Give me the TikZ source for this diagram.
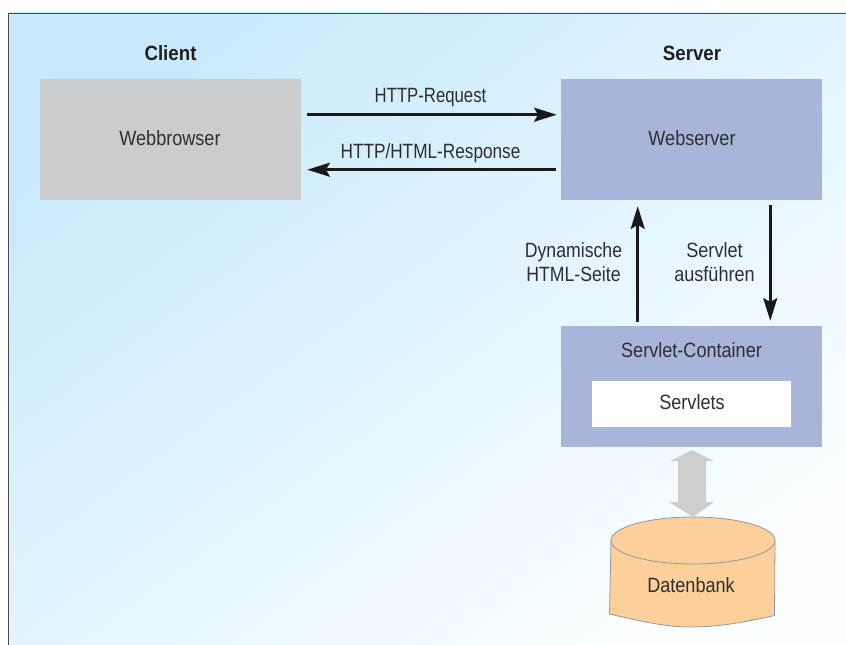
\documentclass[tikz,border=0pt]{standalone}
\usepackage{fontspec}
\setmainfont{Liberation Sans}[FakeStretch=0.81]
\newfontfamily\fR{Liberation Sans}[FakeStretch=0.833]
\newfontfamily\fD{Liberation Sans}[FakeStretch=0.855]
\newfontfamily\fW{Liberation Sans}[FakeStretch=0.875]
\newfontfamily\fB{Liberation Sans}[FakeStretch=0.905]
\usetikzlibrary{calc,arrows.meta}
\definecolor{bgA}{HTML}{C8EAFC}
\definecolor{bgM}{HTML}{E6F6FE}
\definecolor{bgB}{HTML}{FAFEFF}
\definecolor{boxblue}{HTML}{A8B5D9}
\definecolor{boxgray}{HTML}{CBCCCE}
\definecolor{dbfill}{HTML}{FDD09B}
\definecolor{dbline}{HTML}{8E99A8}
\definecolor{arrowgray}{HTML}{CDCDCF}
\definecolor{inktext}{HTML}{2F2F31}
\tikzset{
  lbl/.style={font=\fontsize{15.5}{18}\selectfont, text=inktext, align=center, inner sep=0pt},
  head/.style={font=\fontsize{15.5}{18}\selectfont\fB\bfseries, text=black!88, inner sep=0pt},
  bigbox/.style={minimum width=195.75pt, minimum height=90.75pt, inner sep=0pt},
  conn/.style={line width=2pt, draw=black!90, -{Stealth[length=17pt, width=10.5pt, inset=3pt]}},
}
\begin{document}
\begin{tikzpicture}[x=0.75pt,y=-0.75pt]
\useasboundingbox (0,0) rectangle (846,645);
\fill[white] (0,0) rectangle (846,645);
\shade[bottom color=bgB, middle color=bgM, top color=bgA, shading angle=36] (8,13) rectangle (846,645);
\draw[line width=0.8pt, draw=black!70] (8.5,645) -- (8.5,13.3) -- (846,13.3);

\node[head] (client) at (170.5,53) {Client};
\node[head] (server) at (692,53) {Server};
\node[bigbox, fill=boxgray] (browser) at (170.5,139.5) {};
\node[lbl] (browserlabel) at (170,138) {\fW Webbrowser};
\node[bigbox, fill=boxblue] (web) at (691.5,139.5) {};
\node[lbl] (weblabel) at (692,138) {\fW Webserver};
\node[bigbox, fill=boxblue] (cont) at (691.5,386.5) {};
\node[lbl] (contlabel) at (691.5,350) {\fW Servlet-Container};
\node[fill=white, minimum width=149.25pt, minimum height=34.5pt, inner sep=0pt] (servlets) at (691.5,404) {};
\node[lbl] (servletslabel) at (692,402.5) {\fW Servlets};

\draw[conn] ([shift={(6,36)}]browser.north east) -- ([shift={(-4,36)}]web.north west);
\draw[conn] ([shift={(-5,91)}]web.north west) -- ([shift={(6,91)}]browser.north east);
\draw[conn] ([shift={(77,-4)}]cont.north west) -- ([shift={(77,6)}]web.south west);
\draw[conn] ([shift={(-52,5)}]web.south east) -- ([shift={(-52,-5)}]cont.north east);

\node[lbl] (req) at (430.5,98) {HTTP-Request};
\node[lbl] (resp) at (430.5,153.5) {\fR HTTP/HTML-Response};
\node[lbl] (dyn) at (573.5,262.5) {\fD Dynamische\\\fD HTML-Seite};
\node[lbl] (run) at (714.5,262.5) {\fW Servlet\\\fW ausführen};

% database
\path[fill=dbfill, draw=dbline, line width=0.6pt]
  (611,540) -- (609.5,614) .. controls (640,621) and (665,627) .. (690,627)
  .. controls (720,627) and (745,622) .. (774.5,615.5) -- (775,540) -- cycle;
\path[fill=dbfill, draw=dbline, line width=0.6pt] (693,540.5) ellipse [x radius=82, y radius=23.5];
\node[lbl] (db) at (691,585) {\fW Datenbank};

% double arrow
\fill[arrowgray] (692,450) -- (713.5,461) -- (706,461) -- (706,502) -- (714,502)
  -- (693,517) -- (669,502) -- (678,502) -- (678,461) -- (670.5,461) -- cycle;
\end{tikzpicture}
\end{document}
